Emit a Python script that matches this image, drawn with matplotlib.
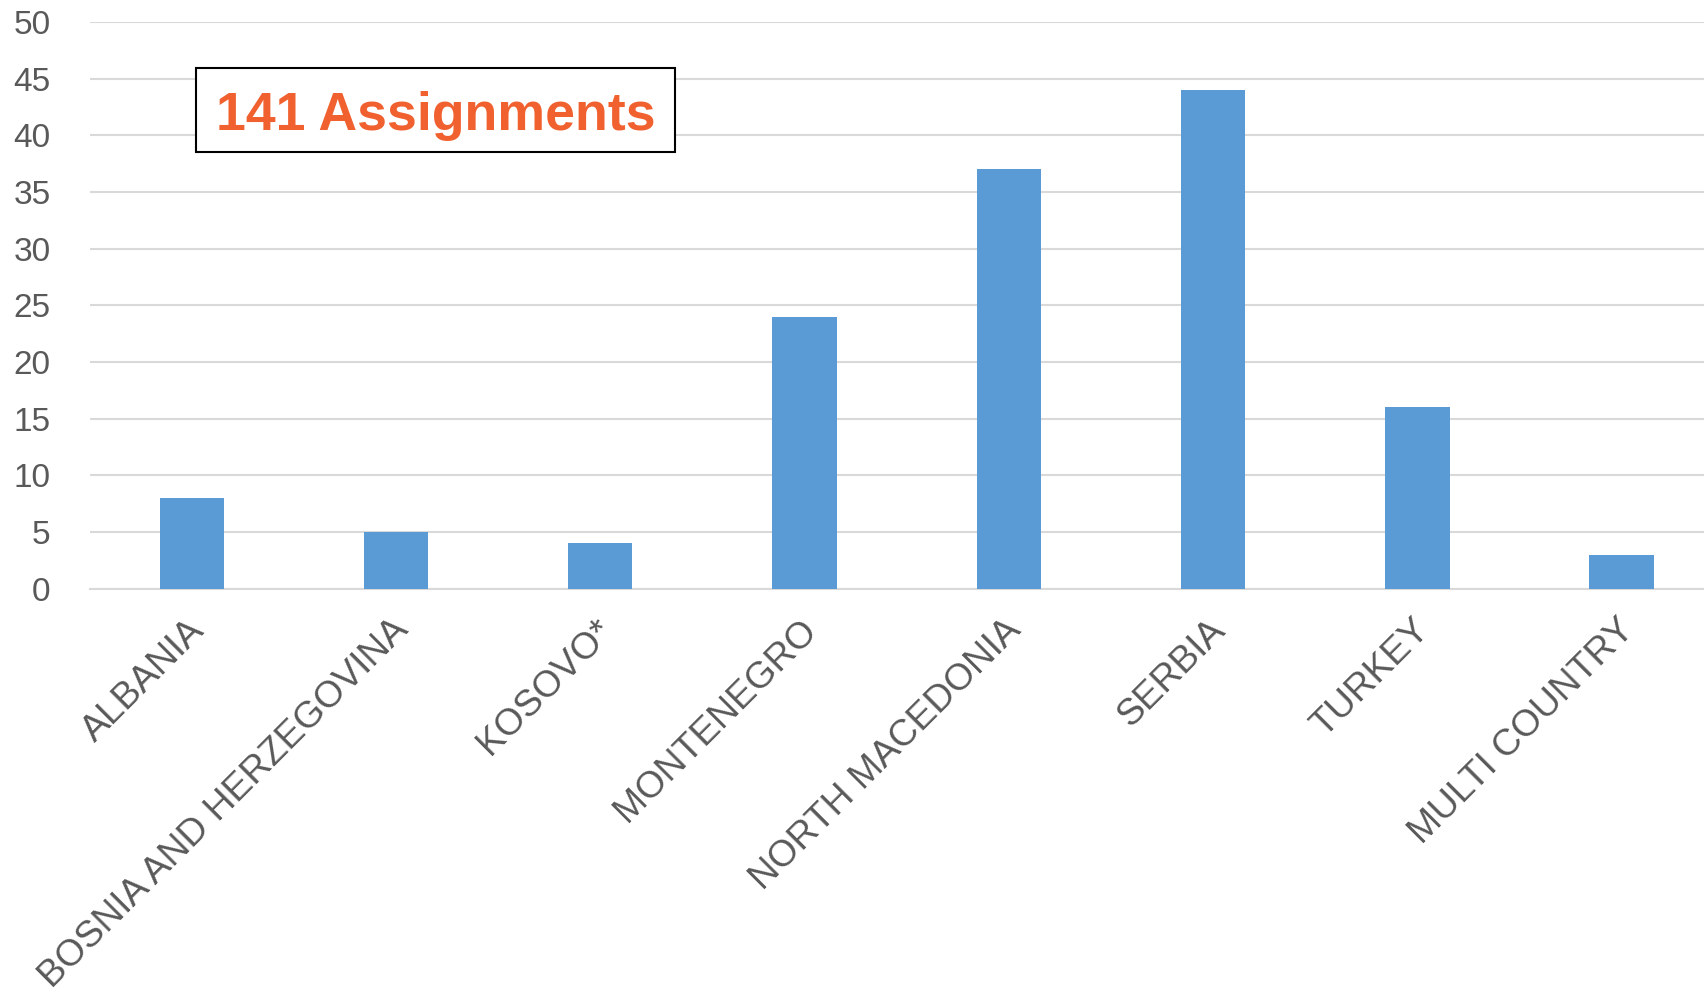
import matplotlib
matplotlib.use("Agg")
import numpy as np
import matplotlib.pyplot as plt
from matplotlib.patches import Rectangle
from matplotlib.transforms import ScaledTranslation

countries = ["ALBANIA", "BOSNIA AND HERZEGOVINA", "KOSOVO*", "MONTENEGRO",
             "NORTH MACEDONIA", "SERBIA", "TURKEY", "MULTI COUNTRY"]
assignments = [8, 5, 4, 24, 37, 44, 16, 3]
yticks = [0, 5, 10, 15, 20, 25, 30, 35, 40, 45, 50]
box_text = "141 Assignments"

plt.rcParams['font.family'] = ['Liberation Sans', 'DejaVu Sans']

fig = plt.figure(figsize=(17.04, 9.98), dpi=100)
# plot area runs a little past the right edge, like the original
ax = fig.add_axes([0.0526, 0.410, 0.959, 0.568])

x = np.arange(len(countries))
ax.bar(x, assignments, width=0.315, color='#5B9BD5', zorder=3)

ax.set_xlim(-0.5, len(countries) - 0.5)
ax.set_ylim(0, 50)
ax.set_yticks(yticks)
ax.set_yticklabels([str(v) for v in yticks], fontsize=24, color='#595959')
ax.set_xticks(x)
ax.set_xticklabels(countries, fontsize=26.8, color='#595959', rotation=45,
                   ha='right', va='center', rotation_mode='anchor')
ax.tick_params(axis='both', length=0)
ax.tick_params(axis='x', pad=26)
ax.tick_params(axis='y', pad=28)
# nudge the rotated labels a bit to the right
shift = ScaledTranslation(7 / 100, 0, fig.dpi_scale_trans)
for lbl in ax.get_xticklabels():
    lbl.set_transform(lbl.get_transform() + shift)

ax.grid(axis='y', color='#D9D9D9', linewidth=1.5, zorder=0)
for s in ['top', 'right', 'left']:
    ax.spines[s].set_visible(False)
ax.spines['bottom'].set_color('#D9D9D9')
ax.spines['bottom'].set_linewidth(1.5)

# text box
fig.patches.append(Rectangle((0.1148, 0.8475), 0.2812, 0.0839, transform=fig.transFigure,
                             facecolor='white', edgecolor='black', linewidth=1.5, zorder=5))
fig.text(0.2555, 0.8693, box_text, fontsize=38.6, fontweight='bold', color='#F0612F',
         ha='center', va='baseline', zorder=6)

fig.savefig("out.png", dpi=100)
